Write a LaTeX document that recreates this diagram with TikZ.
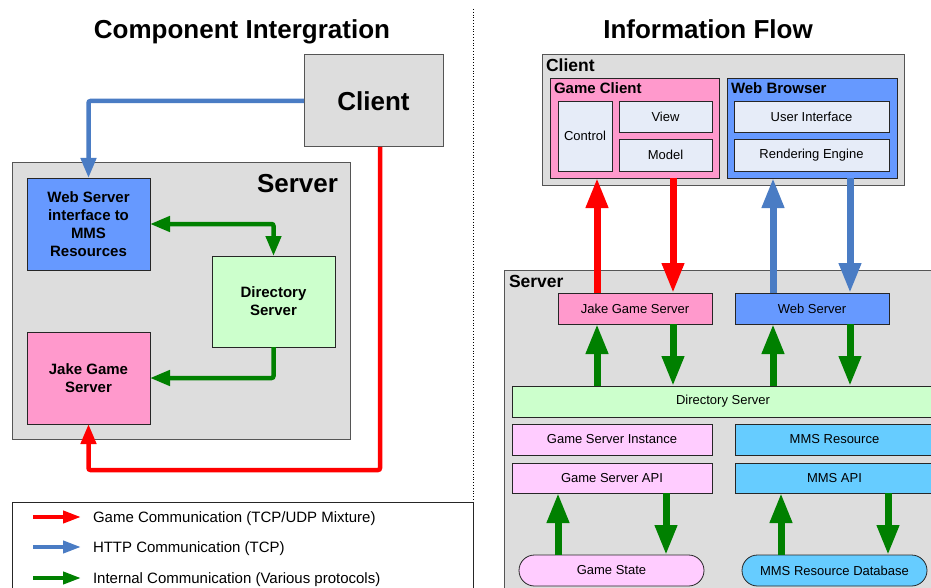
\documentclass[tikz,border=0pt]{standalone}
\usepackage{fontspec}
\setmainfont{Liberation Sans}
\usetikzlibrary{arrows.meta}
\definecolor{boxgray}{HTML}{DDDDDD}
\definecolor{edgegray}{HTML}{555555}
\definecolor{sblue}{HTML}{6699FF}
\definecolor{spink}{HTML}{FF99CC}
\definecolor{sgreen}{HTML}{CCFFCC}
\definecolor{lpink}{HTML}{FFCCFF}
\definecolor{scyan}{HTML}{66CCFF}
\definecolor{innerfill}{HTML}{E6ECF8}
\definecolor{ared}{HTML}{FF0000}
\definecolor{ablue}{HTML}{4A7CC4}
\definecolor{agreen}{HTML}{008000}
\newcommand\ftitle{\fontsize{26}{31}\selectfont\bfseries}
\newcommand\fmid{\fontsize{15}{18}\selectfont\bfseries}
\newcommand\fhead{\fontsize{17.5}{21}\selectfont\bfseries}
\newcommand\fsm{\fontsize{13}{16}\selectfont}
\newcommand\fleg{\fontsize{15}{18}\selectfont}
\newcommand\bx[7]{\node[#1,anchor=north west,minimum width={(#4-#2)*1pt},minimum height={(#5-#3)*1pt}] (#6) at (#2,#3) {#7};}
\begin{document}
\begin{tikzpicture}[x=1pt,y=-1pt,
  every node/.style={inner sep=0pt,outer sep=0pt,align=center},
  graybox/.style={draw=edgegray,fill=boxgray,line width=1pt},
  bbox/.style={draw=black!85,line width=0.8pt},
  pinkbox/.style={bbox,fill=spink},
  bluebox/.style={bbox,fill=sblue},
  greenbox/.style={bbox,fill=sgreen},
  lpinkbox/.style={bbox,fill=lpink},
  cyanbox/.style={bbox,fill=scyan},
  innerbox/.style={bbox,fill=innerfill},
  stadium/.style={rounded corners=15.5pt},
  midfont/.style={font=\fmid},
  smfont/.style={font=\fsm},
  larr/.style={line width=4.5pt,rounded corners=2pt,-{Triangle[length=20pt,width=15pt]}},
  larrtwo/.style={line width=4.5pt,rounded corners=2pt,{Triangle[length=20pt,width=15pt]}-{Triangle[length=20pt,width=15pt]}},
  rarr/.style={line width=7pt,-{Triangle[length=30pt,width=21pt]}},
  legarr/.style={line width=4pt,-{Triangle[length=18pt,width=12pt]}}
]
\useasboundingbox (0,0) rectangle (931,588);
\clip (0,0) rectangle (931,588);
\fill[white] (0,0) rectangle (931,588);

% titles
\node[anchor=base,font=\ftitle] (t1) at (242,39) {Component Intergration};
\node[anchor=base,font=\ftitle] (t2) at (708,39) {Information Flow};

% dotted separator
\coordinate (d1) at (473,9);
\coordinate (d2) at (473,588);
\draw[dotted,line width=0.8pt] (d1) -- (d2);

% ---------- left: component integration ----------
\bx{graybox,font=\ftitle}{304}{55}{443}{147}{cl}{Client}
\bx{graybox}{12}{163}{350}{439}{sv}{}
\node[anchor=base east,font=\ftitle] (svl) at (338,193) {Server};
\bx{bluebox,midfont}{27}{178}{150}{270}{ws}{Web Server\\interface to\\MMS\\Resources}
\bx{greenbox,midfont}{212}{256}{335}{347}{ds}{Directory\\Server}
\bx{pinkbox,midfont}{27}{332}{150}{424}{jk}{Jake Game\\Server}

\coordinate (rc) at (380,470);
\draw[larr,ablue] (cl.west) -| (ws.north);
\draw[larr,ared] (cl.south -| rc) -- (rc) -| (jk.south);
\draw[larrtwo,agreen] (ws.east) -| (ds.north);
\draw[larr,agreen] (ds.south) |- (jk.east);

% legend
\bx{draw=black!85,line width=0.8pt}{12}{502}{473}{620}{leg}{}
\coordinate (la1) at (33,517); \coordinate (lb1) at (81,517);
\coordinate (la2) at (33,547); \coordinate (lb2) at (81,547);
\coordinate (la3) at (33,578); \coordinate (lb3) at (81,578);
\draw[legarr,ared] (la1) -- (lb1);
\draw[legarr,ablue] (la2) -- (lb2);
\draw[legarr,agreen] (la3) -- (lb3);
\node[anchor=base west,font=\fleg] (lt1) at (93,522) {Game Communication (TCP/UDP Mixture)};
\node[anchor=base west,font=\fleg] (lt2) at (93,552) {HTTP Communication (TCP)};
\node[anchor=base west,font=\fleg] (lt3) at (93,583) {Internal Communication (Various protocols)};

% ---------- right: information flow ----------
\bx{graybox}{542}{55}{904}{186}{cl2}{}
\node[anchor=base west,font=\fhead] (cl2l) at (546,72) {Client};
\bx{pinkbox}{550}{78}{719}{178}{gc}{}
\node[anchor=base west,font=\fmid] (gcl) at (554,94) {Game Client};
\bx{innerbox,smfont}{558}{101}{612}{171}{ctl}{Control}
\bx{innerbox,smfont}{619}{101}{712}{132}{view}{View}
\bx{innerbox,smfont}{619}{139}{712}{171}{model}{Model}
\bx{bluebox}{727}{78}{897}{178}{wb}{}
\node[anchor=base west,font=\fmid] (wbl) at (731,94) {Web Browser};
\bx{innerbox,smfont}{734}{101}{889}{132}{ui}{User Interface}
\bx{innerbox,smfont}{734}{139}{889}{171}{re}{Rendering Engine}

\bx{graybox}{504}{270}{960}{620}{sv2}{}
\node[anchor=base west,font=\fhead] (sv2l) at (509,287) {Server};
\bx{pinkbox,smfont}{558}{293}{712}{324}{jk2}{Jake Game Server}
\bx{bluebox,smfont}{735}{293}{889}{324}{ws2}{Web Server}
\bx{greenbox,smfont}{512}{386}{934}{417}{ds2}{Directory Server}
\bx{lpinkbox,smfont}{512}{424}{712}{455}{gsi}{Game Server Instance}
\bx{lpinkbox,smfont}{512}{463}{712}{493}{gsa}{Game Server API}
\bx{cyanbox,smfont}{735}{424}{934}{455}{mmr}{MMS Resource}
\bx{cyanbox,smfont}{735}{463}{934}{493}{mma}{MMS API}
\bx{lpinkbox,stadium,smfont}{519}{555}{704}{586}{gst}{Game State}
\bx{cyanbox,stadium,smfont}{742}{555}{927}{586}{mdb}{MMS Resource Database}

\coordinate (xa) at (597,0);
\coordinate (xb) at (673,0);
\coordinate (xc) at (773,0);
\coordinate (xd) at (850,0);
\coordinate (xe) at (558,0);
\coordinate (xf) at (666,0);
\coordinate (xg) at (781,0);
\coordinate (xh) at (888,0);

\draw[rarr,ared] (jk2.north -| xa) -- (gc.south -| xa);
\draw[rarr,ared] (gc.south -| xb) -- (jk2.north -| xb);
\draw[rarr,ablue] (ws2.north -| xc) -- (wb.south -| xc);
\draw[rarr,ablue] (wb.south -| xd) -- (ws2.north -| xd);
\draw[rarr,agreen] (ds2.north -| xa) -- (jk2.south -| xa);
\draw[rarr,agreen] (jk2.south -| xb) -- (ds2.north -| xb);
\draw[rarr,agreen] (ds2.north -| xc) -- (ws2.south -| xc);
\draw[rarr,agreen] (ws2.south -| xd) -- (ds2.north -| xd);
\draw[rarr,agreen] (gst.north -| xe) -- (gsa.south -| xe);
\draw[rarr,agreen] (gsa.south -| xf) -- (gst.north -| xf);
\draw[rarr,agreen] (mdb.north -| xg) -- (mma.south -| xg);
\draw[rarr,agreen] (mma.south -| xh) -- (mdb.north -| xh);
\end{tikzpicture}
\end{document}
